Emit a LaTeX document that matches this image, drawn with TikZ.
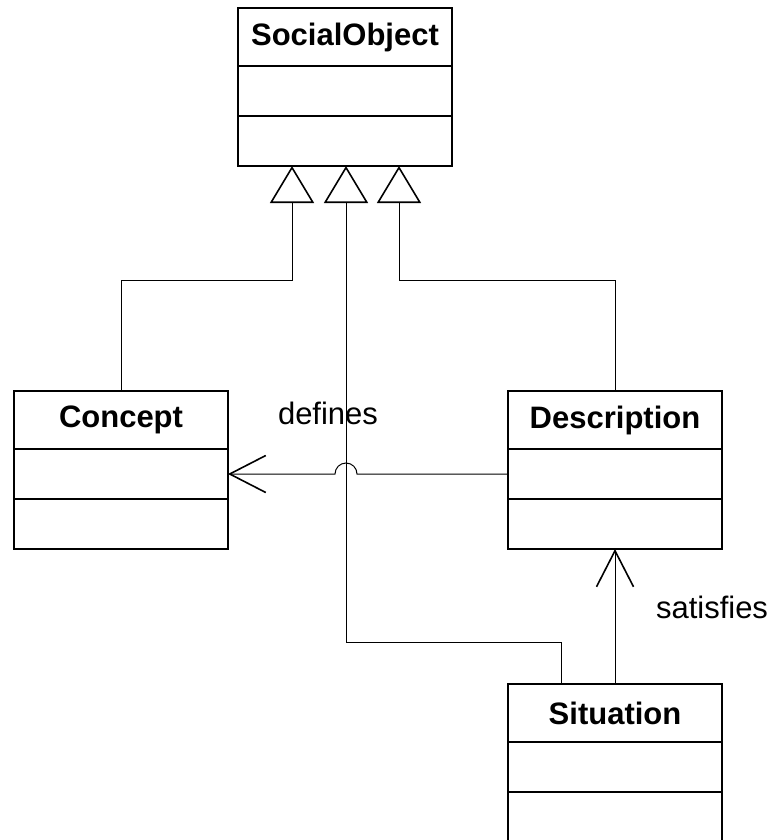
\documentclass[tikz,border=0pt]{standalone}
\usepackage{fontspec}
\setmainfont{Liberation Sans}
\usetikzlibrary{arrows.meta, positioning, calc}

\tikzset{
  classname/.style={draw, line width=2pt, outer sep=0pt, inner sep=0pt,
    minimum width=214pt, minimum height=58pt,
    font=\fontsize{31}{36}\selectfont\bfseries},
  classpart/.style={draw, line width=2pt, outer sep=0pt, inner sep=0pt,
    minimum width=214pt, minimum height=50pt},
  gen/.style={line width=1pt,
    -{Triangle[open, length=37pt, width=44pt, line width=1.6pt]}},
  assoc/.style={line width=1pt,
    -{Straight Barb[length=36pt, width=37pt, line width=1.6pt]}},
  lbl/.style={font=\fontsize{31}{36}\selectfont},
}

\begin{document}
\begin{tikzpicture}[x=1pt, y=-1pt]
  \useasboundingbox (0,0) rectangle (775,840);

  % SocialObject
  \node[classname] (so) at (345,37) {SocialObject};
  \node[classpart, below=0pt of so] (so1) {};
  \node[classpart, below=0pt of so1] (so2) {};

  % Concept
  \node[classname] (concept) at (121,420) {Concept};
  \node[classpart, below=0pt of concept] (concept1) {};
  \node[classpart, below=0pt of concept1] (concept2) {};

  % Description
  \node[classname] (desc) at (615,420) {Description};
  \node[classpart, below=0pt of desc] (desc1) {};
  \node[classpart, below=0pt of desc1] (desc2) {};

  % Situation
  \node[classname] (sit) at (615,713) {Situation};
  \node[classpart, below=0pt of sit] (sit1) {};
  \node[classpart, below=0pt of sit1] (sit2) {};

  % generalisation ends
  \coordinate (g1) at ([xshift=-53pt]so2.south);
  \coordinate (g2) at ([xshift=1pt]so2.south);
  \coordinate (g3) at ([xshift=54pt]so2.south);
  \coordinate (sitleft) at ([xshift=-54pt]sit.north);

  \draw[gen] (concept.north) -- ++(0,-111) -| (g1);
  \draw[gen] (desc.north) -- ++(0,-111) -| (g3);
  \draw[gen] (sitleft) -- ++(0,-42) -| (g2);

  % defines, with a jump over the line from Situation
  \coordinate (jr) at ($(g2 |- desc1.west)+(11,0)$);
  \draw[assoc] (desc1.west) -- (jr)
    arc[start angle=0, end angle=180, radius=11pt] -- (concept1.east);
  \node[lbl] (definestext) at (328,413) {defines};

  % satisfies
  \draw[assoc] (sit.north) -- (desc2.south);
  \node[lbl] (satisfiestext) at (712,607) {satisfies};
\end{tikzpicture}
\end{document}
